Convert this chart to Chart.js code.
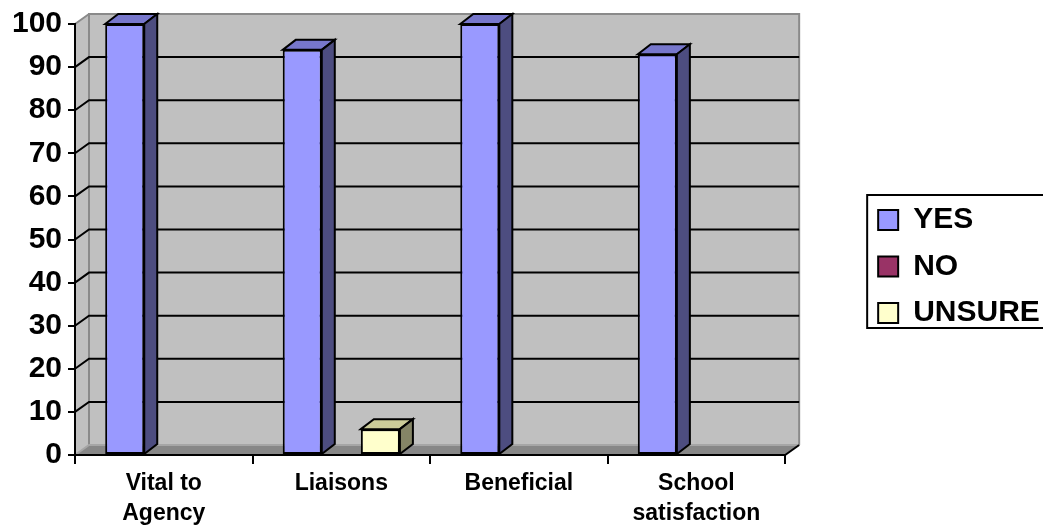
<!DOCTYPE html>
<html>
<head>
<meta charset="utf-8">
<script src="https://cdn.jsdelivr.net/npm/chart.js@4"></script>
<style>
  body { margin: 0; background: #fff; }
</style>
</head>
<body>
<canvas id="survey" width="1043" height="529"></canvas>
<script>
const categories = [['Vital to', 'Agency'], 'Liaisons', 'Beneficial', ['School', 'satisfaction']];
const yesValues = [100, 94, 100, 93];
const noValues = [0, 0, 0, 0];
const unsureValues = [0, 6, 0, 0];
const yTicks = [0, 10, 20, 30, 40, 50, 60, 70, 80, 90, 100];

// depth of the fake 3d look
const DX = 14, DY = 10;
const faces = [
    { top: '#7777cc', side: '#4d4d80' },
    { top: '#66334d', side: '#4d1a33' },
    { top: '#cccc99', side: '#858566' }
];

const wallPlugin = {
    id: 'walls',
    beforeDraw(chart) {
        const ctx = chart.ctx;
        const a = chart.chartArea;
        const y = chart.scales.y;
        ctx.save();
        // side wall
        ctx.fillStyle = '#c0c0c0';
        ctx.beginPath();
        ctx.moveTo(a.left, a.top);
        ctx.lineTo(a.left + DX, a.top - DY);
        ctx.lineTo(a.left + DX, a.bottom - DY);
        ctx.lineTo(a.left, a.bottom);
        ctx.closePath();
        ctx.fill();
        // back wall
        ctx.fillRect(a.left + DX, a.top - DY, a.right - a.left, a.bottom - a.top);
        // floor
        ctx.fillStyle = '#878787';
        ctx.beginPath();
        ctx.moveTo(a.left, a.bottom);
        ctx.lineTo(a.left + DX, a.bottom - DY);
        ctx.lineTo(a.right + DX, a.bottom - DY);
        ctx.lineTo(a.right, a.bottom);
        ctx.closePath();
        ctx.fill();
        // wall edges
        ctx.strokeStyle = '#8a8a8a';
        ctx.lineWidth = 2;
        ctx.beginPath();
        ctx.moveTo(a.left + DX, a.bottom - DY);
        ctx.lineTo(a.left + DX, a.top - DY);
        ctx.lineTo(a.right + DX, a.top - DY);
        ctx.lineTo(a.right + DX, a.bottom - DY);
        ctx.moveTo(a.left, a.top);
        ctx.lineTo(a.left + DX, a.top - DY);
        ctx.stroke();
        // floor back edge
        ctx.strokeStyle = '#a6a6a6';
        ctx.beginPath();
        ctx.moveTo(a.left, a.bottom);
        ctx.lineTo(a.left + DX, a.bottom - DY);
        ctx.lineTo(a.right + DX, a.bottom - DY);
        ctx.stroke();
        // grid lines on the walls
        ctx.strokeStyle = '#000';
        ctx.beginPath();
        yTicks.forEach(v => {
            if (v === 0 || v === 100) return;
            const py = y.getPixelForValue(v);
            ctx.moveTo(a.left, py);
            ctx.lineTo(a.left + DX, py - DY);
            ctx.lineTo(a.right + DX, py - DY);
        });
        ctx.stroke();
        // right floor edge
        ctx.beginPath();
        ctx.moveTo(a.right, a.bottom);
        ctx.lineTo(a.right + DX, a.bottom - DY);
        ctx.stroke();
        ctx.restore();
    }
};

const boxPlugin = {
    id: 'boxes',
    afterLayout(chart) {
        // nudge the legend up and left a bit
        const lg = chart.legend;
        lg.left -= 7.5;
        lg.top -= 8.5;
        lg.bottom -= 8.5;
    },
    afterDatasetsDraw(chart) {
        const ctx = chart.ctx;
        ctx.save();
        ctx.strokeStyle = '#000';
        ctx.lineWidth = 2;
        ctx.lineJoin = 'miter';
        chart.data.datasets.forEach((ds, i) => {
            chart.getDatasetMeta(i).data.forEach((bar, j) => {
                if (!ds.data[j]) return;
                const p = bar.getProps(['x', 'y', 'base', 'width'], true);
                const l = p.x - p.width / 2, r = p.x + p.width / 2;
                const dx = DX - 1;
                ctx.fillStyle = faces[i].top;
                ctx.beginPath();
                ctx.moveTo(l, p.y);
                ctx.lineTo(l + dx, p.y - DY);
                ctx.lineTo(r + dx, p.y - DY);
                ctx.lineTo(r, p.y);
                ctx.closePath();
                ctx.fill();
                ctx.stroke();
                ctx.fillStyle = faces[i].side;
                ctx.beginPath();
                ctx.moveTo(r, p.y);
                ctx.lineTo(r + dx, p.y - DY);
                ctx.lineTo(r + dx, p.base - DY);
                ctx.lineTo(r, p.base);
                ctx.closePath();
                ctx.fill();
                ctx.stroke();
            });
        });
        ctx.restore();
    },
    afterDraw(chart) {
        const boxes = chart.legend.legendHitBoxes;
        if (!boxes || !boxes.length) return;
        const first = boxes[0], last = boxes[boxes.length - 1];
        const ctx = chart.ctx;
        ctx.save();
        ctx.strokeStyle = '#000';
        ctx.lineWidth = 2;
        const left = first.left - 11;
        const top = first.top - 10;
        const bottom = last.top + last.height;
        ctx.strokeRect(left, top, chart.width + 10 - left, bottom - top);
        ctx.restore();
    }
};

const chart = new Chart(document.getElementById('survey').getContext('2d'), {
    type: 'bar',
    data: {
        labels: categories,
        datasets: [{
            label: 'YES',
            data: yesValues,
            backgroundColor: '#9999ff',
            borderColor: '#000',
            borderWidth: 2
        }, {
            label: 'NO',
            data: noValues,
            backgroundColor: '#993366',
            borderColor: '#000',
            borderWidth: 2
        }, {
            label: 'UNSURE',
            data: unsureValues,
            backgroundColor: '#ffffcc',
            borderColor: '#000',
            borderWidth: 2
        }]
    },
    options: {
        responsive: false,
        animation: false,
        borderSkipped: false,
        categoryPercentage: 0.66,
        barPercentage: 1,
        layout: { padding: { top: 21 } },
        plugins: {
            tooltip: { enabled: false },
            legend: {
                position: 'right',
                labels: {
                    color: '#000',
                    font: { family: 'Liberation Sans, Arial', size: 30, weight: 'bold' },
                    boxWidth: 20,
                    boxHeight: 20,
                    padding: 16.5
                }
            }
        },
        scales: {
            x: {
                grid: { drawOnChartArea: false, color: '#000', lineWidth: 2, tickLength: 9 },
                border: { color: '#000', width: 2 },
                ticks: {
                    color: '#000',
                    padding: 4,
                    maxRotation: 0,
                    autoSkip: false,
                    font: { family: 'Liberation Sans, Arial', size: 23, weight: 'bold', lineHeight: 1.33 }
                },
                afterFit: s => { s.height = 74; }
            },
            y: {
                min: 0,
                max: 100,
                grid: { drawOnChartArea: false, color: '#000', lineWidth: 2, tickLength: 7 },
                border: { color: '#000', width: 2 },
                ticks: {
                    stepSize: 10,
                    color: '#000',
                    padding: 6,
                    font: { family: 'Liberation Sans, Arial', size: 30, weight: 'bold' }
                },
                afterFit: s => { s.width = 75; }
            },
            gap: {
                position: 'right',
                grid: { display: false },
                border: { display: false },
                ticks: { display: false },
                afterFit: s => { s.width = 84; }
            }
        }
    },
    plugins: [wallPlugin, boxPlugin]
});
</script>
</body>
</html>
